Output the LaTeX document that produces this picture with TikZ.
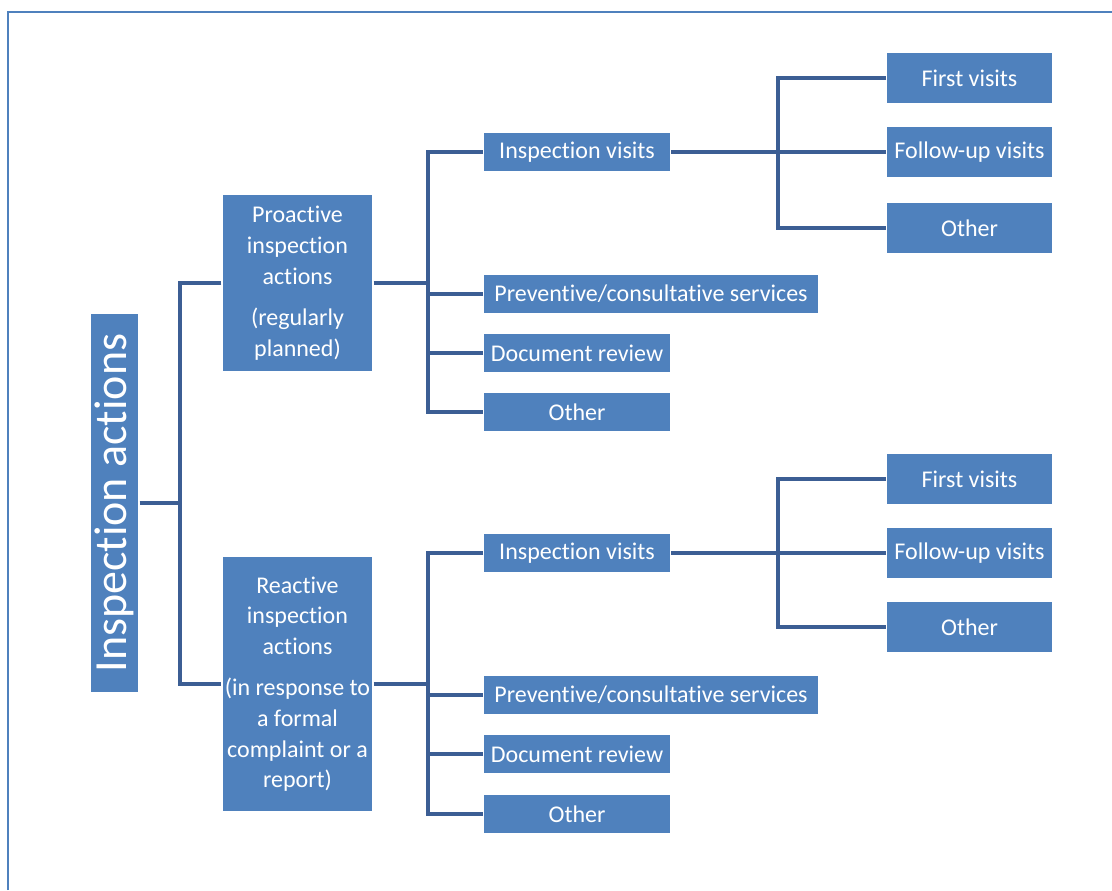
\documentclass[tikz,border=0pt]{standalone}
\usepackage{fontspec}
\setmainfont{Carlito}[Ligatures=NoCommon]

\definecolor{boxblue}{HTML}{4F81BD}
\definecolor{linkblue}{HTML}{3C5E94}

\tikzset{
  unit/.style={fill=boxblue,draw=white,line width=0.8pt,text=white,
    inner sep=0pt,align=center,font=\fontsize{18}{23}\selectfont},
  leaf/.style={unit,anchor=west,minimum width=140.25pt,minimum height=30pt},
  subleaf/.style={unit,anchor=west,minimum width=124.5pt,minimum height=39pt},
  link/.style={draw=linkblue,line width=2.3pt},
}

\begin{document}
\begin{tikzpicture}[x=0.75pt,y=-0.75pt]
  \useasboundingbox (0,0) rectangle (1112,890);

  % open frame round the chart
  \draw[boxblue,line width=1.5pt] (8,890) -- (8,12) -- (1112,12);

  % Coordinates
  \coordinate (rootbus) at (180,503);
  \coordinate (pbus) at (428,283);
  \coordinate (rbus) at (428,684);
  \coordinate (pvbus) at (778,152);
  \coordinate (rvbus) at (778,553);

  % root, text turned upwards (so its south side faces right)
  \node[unit,rotate=90,minimum width=285pt,minimum height=36.75pt,
    font=\fontsize{34.5}{36}\selectfont] (root) at (114.5,503) {Inspection actions};

  % first level
  \node[unit,minimum width=113.25pt,minimum height=132.75pt] (pro) at (297.5,283)
    {Proactive\\inspection\\actions\\[8pt](regularly\\planned)};
  \node[unit,minimum width=113.25pt,minimum height=192pt] (rea) at (297.5,684)
    {Reactive\\inspection\\actions\\[8pt](in response to\\a formal\\complaint or a\\report)};

  % second level, proactive
  \node[leaf] (pvis) at (483,152) {Inspection visits};
  \node[leaf,minimum width=251.25pt] (pprev) at (483,294) {Preventive/consultative services};
  \node[leaf] (pdoc) at (483,353) {Document review};
  \node[leaf] (poth) at (483,412) {Other};

  % second level, reactive
  \node[leaf] (rvis) at (483,553) {Inspection visits};
  \node[leaf,minimum width=251.25pt] (rprev) at (483,695) {Preventive/consultative services};
  \node[leaf] (rdoc) at (483,754) {Document review};
  \node[leaf] (roth) at (483,814) {Other};

  % third level
  \node[subleaf] (pfirst) at (886,78) {First visits};
  \node[subleaf] (pfollow) at (886,152) {Follow-up visits};
  \node[subleaf] (pother) at (886,228) {Other};
  \node[subleaf] (rfirst) at (886,479) {First visits};
  \node[subleaf] (rfollow) at (886,553) {Follow-up visits};
  \node[subleaf] (rother) at (886,627) {Other};

  % connecting the units
  \draw[link] (root.south) -- (rootbus);
  \draw[link] (pro.west) -| (rootbus) |- (rea.west);

  \draw[link] (pro.east) -- (pbus);
  \draw[link] (pvis.west) -| (pbus) |- (poth.west);
  \draw[link] (pprev.west) -- (pprev.west -| pbus);
  \draw[link] (pdoc.west) -- (pdoc.west -| pbus);

  \draw[link] (rea.east) -- (rbus);
  \draw[link] (rvis.west) -| (rbus) |- (roth.west);
  \draw[link] (rprev.west) -- (rprev.west -| rbus);
  \draw[link] (rdoc.west) -- (rdoc.west -| rbus);

  \draw[link] (pvis.east) -- (pvbus);
  \draw[link] (pfirst.west) -| (pvbus) |- (pother.west);
  \draw[link] (pfollow.west) -- (pvbus);

  \draw[link] (rvis.east) -- (rvbus);
  \draw[link] (rfirst.west) -| (rvbus) |- (rother.west);
  \draw[link] (rfollow.west) -- (rvbus);

\end{tikzpicture}
\end{document}
